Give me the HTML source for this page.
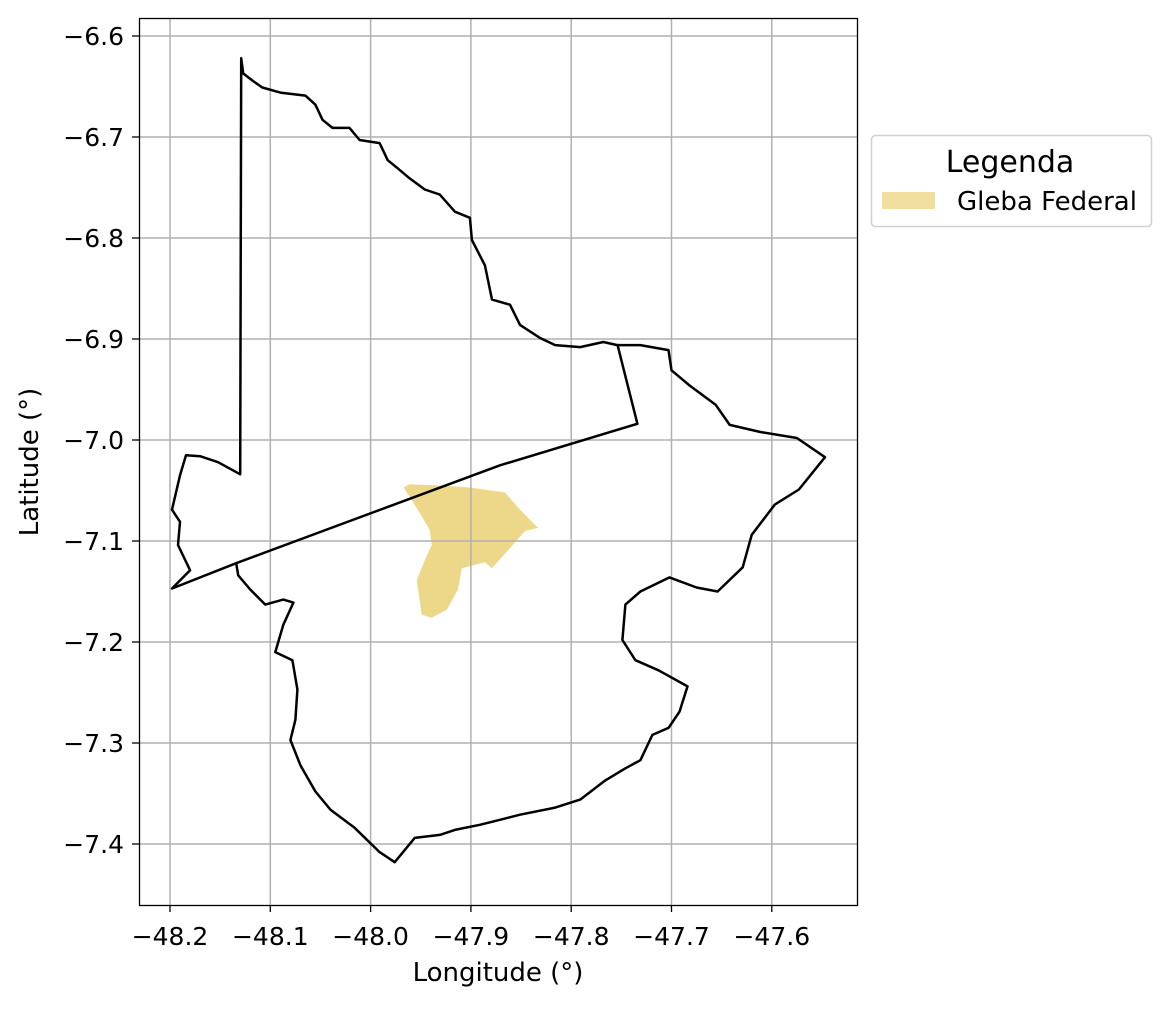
<!DOCTYPE html>
<html><head><meta charset="utf-8"><style>
body{margin:0;background:#fff;}
svg text{font-family:"DejaVu Sans","Liberation Sans",sans-serif;fill:#000;}
</style></head><body>
<svg id="chart" width="1170" height="1006" xmlns="http://www.w3.org/2000/svg">
<rect x="0" y="0" width="1170" height="1006" fill="#fff"/>
<g id="grid"></g>
<g id="marks"></g>
<rect x="139.5" y="18.5" width="718" height="887" fill="none" stroke="#000" stroke-width="1.3"/>
<g id="ticks"></g>
<text x="498" y="981" font-size="26" text-anchor="middle">Longitude (°)</text>
<text transform="translate(38,462) rotate(-90)" font-size="26" text-anchor="middle">Latitude (°)</text>
<g>
<rect x="871.5" y="135.5" width="280" height="91" rx="4" fill="#fff" stroke="#d0d0d0" stroke-width="1.5"/>
<text x="1010" y="172" font-size="30" text-anchor="middle">Legenda</text>
<rect x="882" y="192" width="53" height="17" fill="#f0de9e"/>
<text x="957" y="210" font-size="26">Gleba Federal</text>
</g>
</svg>
<script>
const xTicks=[-48.2,-48.1,-48.0,-47.9,-47.8,-47.7,-47.6];
const yTicks=[-6.6,-6.7,-6.8,-6.9,-7.0,-7.1,-7.2,-7.3,-7.4];
const outlineLon=[-48.129,-48.127,-48.118,-48.108,-48.090,-48.065,-48.055,-48.048,-48.038,-48.021,-48.011,-47.991,-47.983,-47.973,-47.961,-47.946,-47.931,-47.916,-47.901,-47.899,-47.886,-47.879,-47.861,-47.851,-47.831,-47.816,-47.791,-47.768,-47.754,-47.731,-47.703,-47.700,-47.682,-47.656,-47.642,-47.612,-47.575,-47.547,-47.573,-47.597,-47.620,-47.629,-47.654,-47.675,-47.702,-47.731,-47.746,-47.749,-47.736,-47.713,-47.684,-47.692,-47.703,-47.719,-47.731,-47.746,-47.766,-47.791,-47.816,-47.851,-47.871,-47.891,-47.916,-47.931,-47.956,-47.976,-47.991,-48.016,-48.040,-48.055,-48.070,-48.080,-48.075,-48.073,-48.078,-48.095,-48.087,-48.077,-48.087,-48.105,-48.120,-48.132,-48.134,-48.198,-48.180,-48.192,-48.190,-48.198,-48.190,-48.184,-48.170,-48.152,-48.130];
const outlineLat=[-6.622,-6.637,-6.644,-6.651,-6.656,-6.659,-6.668,-6.683,-6.691,-6.691,-6.703,-6.706,-6.723,-6.731,-6.741,-6.752,-6.757,-6.774,-6.780,-6.802,-6.827,-6.861,-6.866,-6.886,-6.899,-6.906,-6.908,-6.903,-6.906,-6.906,-6.911,-6.931,-6.946,-6.965,-6.985,-6.992,-6.998,-7.017,-7.049,-7.064,-7.094,-7.126,-7.150,-7.146,-7.136,-7.150,-7.163,-7.198,-7.218,-7.228,-7.244,-7.269,-7.285,-7.292,-7.317,-7.325,-7.337,-7.356,-7.364,-7.371,-7.376,-7.381,-7.386,-7.391,-7.394,-7.418,-7.408,-7.384,-7.366,-7.348,-7.322,-7.297,-7.277,-7.247,-7.218,-7.210,-7.183,-7.161,-7.158,-7.163,-7.148,-7.134,-7.122,-7.147,-7.129,-7.104,-7.081,-7.069,-7.035,-7.015,-7.016,-7.022,-7.034];
const diagLon=[-48.134,-47.871,-47.734,-47.754];
const diagLat=[-7.122,-7.025,-6.984,-6.905];
const glebaLon=[-47.967,-47.961,-47.931,-47.901,-47.866,-47.851,-47.833,-47.846,-47.879,-47.886,-47.909,-47.913,-47.924,-47.939,-47.949,-47.954,-47.946,-47.939,-47.941,-47.953];
const glebaLat=[-7.047,-7.044,-7.045,-7.047,-7.052,-7.069,-7.087,-7.090,-7.127,-7.121,-7.127,-7.148,-7.168,-7.176,-7.173,-7.139,-7.119,-7.104,-7.089,-7.069];

const NS='http://www.w3.org/2000/svg';
function X(lon){return 170+(lon+48.2)*1003;}
function Y(lat){return 36+(-6.6-lat)*1010;}
function el(tag,attrs,parent){const e=document.createElementNS(NS,tag);for(const k in attrs)e.setAttribute(k,attrs[k]);parent.appendChild(e);return e;}
const grid=document.getElementById('grid'),marks=document.getElementById('marks'),ticks=document.getElementById('ticks');
function fmt(v){return (v<0?'\u2212':'')+Math.abs(v).toFixed(1);}
function pts(lo,la){return lo.map((v,i)=>X(v).toFixed(1)+','+Y(la[i]).toFixed(1)).join(' ');}

const gl=el('polygon',{points:pts(glebaLon,glebaLat),fill:'#edd789',stroke:'none'},marks);



xTicks.forEach(v=>{
  const x=X(v);
  const g=el('line',{x1:x,x2:x,y1:18,y2:905,stroke:'#b0b0b0','stroke-width':1.5},grid);
  
  
  const t=el('line',{x1:x,x2:x,y1:905,y2:912,stroke:'#000','stroke-width':1.3},ticks);
  
  
  const l=el('text',{x:x,y:945,'font-size':25,'text-anchor':'middle'},ticks);
  l.textContent=fmt(v);
  
  
});
yTicks.forEach(v=>{
  const y=Y(v);
  const g=el('line',{x1:139,x2:857,y1:y,y2:y,stroke:'#b0b0b0','stroke-width':1.5},grid);
  
  
  const t=el('line',{x1:132,x2:139,y1:y,y2:y,stroke:'#000','stroke-width':1.3},ticks);
  
  
  const l=el('text',{x:124,y:y+9,'font-size':25,'text-anchor':'end'},ticks);
  l.textContent=fmt(v);
  
  
});
marks.parentNode.insertBefore(grid, marks.nextSibling);
const outlines=el('g',{},grid.parentNode);
grid.parentNode.insertBefore(outlines, grid.nextSibling);
const ol=el('polygon',{points:pts(outlineLon,outlineLat),fill:'none',stroke:'#000','stroke-width':2.5,'stroke-linejoin':'round'},outlines);


const dg=el('polyline',{points:pts(diagLon,diagLat),fill:'none',stroke:'#000','stroke-width':2.5,'stroke-linejoin':'round'},outlines);


</script>
</body></html>
